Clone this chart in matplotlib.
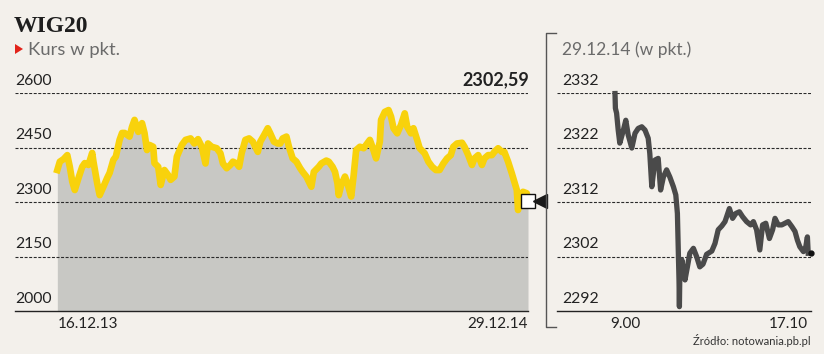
import matplotlib.pyplot as plt
from matplotlib.lines import Line2D
from matplotlib.patches import Polygon

plt.rcParams['font.family'] = ['Lato', 'DejaVu Sans']

# WIG20, kurs zamkniecia; dni od 16.12.13
day = [0, 2, 5, 8, 10, 12, 14, 17, 20, 22, 25, 28, 29, 32, 34, 37, 40, 42, 45, 47,
       50, 52, 54, 58, 60, 62, 65, 68, 70, 72, 74, 77, 78, 81, 83, 86, 89, 91, 94, 96,
       100, 103, 107, 110, 113, 116, 119, 121, 124, 128, 131, 133, 136, 139, 141, 144, 146, 148, 151, 154,
       157, 161, 163, 166, 169, 171, 174, 177, 179, 181, 184, 186, 189, 192, 195, 197, 200, 202, 204, 206,
       210, 212, 216, 218, 221, 223, 225, 226, 228, 231, 233, 236, 238, 240, 243, 246, 248, 251, 253, 256,
       259, 260, 263, 266, 268, 270, 273, 276, 279, 281, 284, 286, 289, 291, 295, 298, 301, 304, 307, 310,
       313, 316, 318, 321, 325, 327, 330, 333, 335, 338, 341, 343, 346, 349, 351, 354, 357, 359, 362, 365,
       367, 369, 370, 372, 374, 377, 378]
wig = [2388, 2411, 2418, 2429, 2397, 2356, 2333, 2366, 2397, 2407, 2402, 2435, 2411, 2352, 2319, 2342, 2366, 2380, 2416, 2425,
       2471, 2490, 2490, 2480, 2507, 2526, 2493, 2517, 2490, 2443, 2457, 2452, 2407, 2397, 2347, 2388, 2374, 2361, 2370, 2425,
       2457, 2471, 2475, 2461, 2473, 2452, 2406, 2461, 2452, 2448, 2434, 2406, 2393, 2402, 2411, 2406, 2397, 2434, 2471, 2475,
       2466, 2438, 2466, 2484, 2503, 2489, 2466, 2461, 2461, 2475, 2480, 2452, 2420, 2411, 2393, 2383, 2370, 2356, 2342, 2383,
       2397, 2406, 2414, 2411, 2397, 2383, 2351, 2319, 2347, 2370, 2351, 2315, 2374, 2443, 2452, 2448, 2457, 2471, 2452, 2420,
       2466, 2526, 2548, 2553, 2535, 2503, 2489, 2512, 2544, 2507, 2489, 2503, 2471, 2448, 2434, 2411, 2397, 2388, 2388, 2406,
       2420, 2429, 2452, 2461, 2463, 2452, 2429, 2402, 2420, 2429, 2402, 2420, 2429, 2429, 2438, 2448, 2438, 2438, 2411, 2379,
       2356, 2333, 2278, 2319, 2328, 2324, 2302.59]
last_label = '2302,59'
left_ticks = [2000, 2150, 2300, 2450, 2600]
left_dates = ['16.12.13', '29.12.14']

# sesja 29.12.14; minuty od 9.00
minute = [0, 1, 4, 8, 12, 21, 27, 33, 42, 50, 58, 67, 75, 83, 87, 92, 100, 108, 114, 121,
          129, 137, 146, 152, 156, 158, 160, 161, 162, 167, 175, 181, 187, 196, 204, 212, 220, 229, 242, 250,
          258, 267, 275, 286, 294, 302, 311, 319, 329, 339, 346, 354, 362, 369, 377, 386, 394, 400, 408, 417,
          425, 433, 442, 450, 456, 462, 471, 477, 481, 483, 490]
intraday = [2331.9, 2329.2, 2328.3, 2325.2, 2322.8, 2325.2, 2327.0, 2324.3, 2321.9, 2324.6, 2325.5, 2325.8, 2325.2, 2323.7, 2320.9, 2314.8, 2319.7, 2320.0, 2314.2, 2316.6,
            2317.9, 2316.6, 2314.8, 2313.3, 2309.9, 2303.8, 2297.7, 2292.8, 2298.3, 2301.4, 2297.7, 2300.1, 2302.6, 2303.5, 2302.0, 2300.1, 2300.6, 2302.4, 2303.0, 2304.4,
            2306.9, 2307.6, 2308.4, 2310.8, 2309.0, 2309.9, 2310.2, 2309.3, 2308.4, 2307.8, 2308.4, 2306.9, 2303.2, 2307.8, 2308.1, 2305.3, 2306.9, 2309.0, 2307.8, 2307.8,
            2308.1, 2308.4, 2307.5, 2306.6, 2305.0, 2303.8, 2302.9, 2303.8, 2305.6, 2302.6, 2302.59]
right_ticks = [2292, 2302, 2312, 2322, 2332]
time_labels = ['9.00', '17.10']

bg = '#f3f0eb'
W, H = 824, 354


def fx(px):
    return px / W


def fy(py):
    return 1 - py / H


fig = plt.figure(figsize=(W / 100, H / 100), dpi=100, facecolor=bg)

# lewy wykres
ax = fig.add_axes([fx(15), fy(311), fx(528) - fx(15), fy(93) - fy(311)])
ax.set_facecolor('none')
ax.set_xlim(-34, 378)
ax.set_ylim(2000, 2600)
ax.fill_between(day, wig, 2000, color='#c8c8c4', lw=0, zorder=1)
for v in left_ticks[1:]:
    ax.axhline(v, color='#2a2a2a', lw=0.8, dashes=(2.7, 1.4), zorder=2)
for v in left_ticks:
    ax.annotate(str(v), (-34, v), xytext=(0.5, 5.8), textcoords='offset points',
                fontsize=11.3, color='#222222', va='baseline', ha='left')
ax.plot(day, wig, color='#f8d20c', lw=4.8, solid_joinstyle='round', zorder=3, clip_on=False)
ax.plot(day[-1], wig[-1], marker='s', ms=9.5, mfc='white', mec='#111111', mew=1, zorder=5, clip_on=False)
ax.plot([day[-1]], [wig[-1]], marker='<', ms=10, color='#1a1a1a', zorder=5, clip_on=False,
        transform=ax.transData + plt.matplotlib.transforms.ScaledTranslation(12 / 100, 0, fig.dpi_scale_trans))
ax.annotate(last_label, (378, 2600), xytext=(0.5, 5.8), textcoords='offset points',
            fontsize=13, fontweight='bold', color='#222222', ha='right', va='baseline')
ax.annotate(left_dates[0], (day[0], 2000), xytext=(0, -12.3), textcoords='offset points',
            fontsize=11, color='#222222', ha='left', va='baseline')
ax.annotate(left_dates[1], (day[-1], 2000), xytext=(0, -12.3), textcoords='offset points',
            fontsize=11, color='#222222', ha='right', va='baseline')
for s in ['top', 'left', 'right']:
    ax.spines[s].set_visible(False)
ax.spines['bottom'].set_color('#222222')
ax.spines['bottom'].set_linewidth(1)
ax.set_xticks([])
ax.set_yticks([])

# prawy wykres
ax2 = fig.add_axes([fx(557), fy(311), fx(811) - fx(557), fy(93) - fy(311)])
ax2.set_facecolor('none')
ax2.set_xlim(-145, 490)
ax2.set_ylim(2292, 2332)
for v in right_ticks[1:]:
    ax2.axhline(v, color='#2a2a2a', lw=0.8, dashes=(2.7, 1.4), zorder=2)
for v in right_ticks:
    ax2.annotate(str(v), (-145, v), xytext=(3.6, 5.8), textcoords='offset points',
                 fontsize=11.3, color='#222222', va='baseline', ha='left')
ax2.plot(minute[:-1], intraday[:-1], color='#4a4a4a', lw=3.8, zorder=3, clip_on=False)
ax2.plot(minute[-1], intraday[-1], marker='o', ms=3.5, color='#111111', zorder=4, clip_on=False)
ax2.annotate(time_labels[0], (0, 2292), xytext=(-3.5, -12.3), textcoords='offset points',
             fontsize=11, color='#222222', ha='left', va='baseline')
ax2.annotate(time_labels[1], (490, 2292), xytext=(-2, -12.3), textcoords='offset points',
             fontsize=11, color='#222222', ha='right', va='baseline')
for s in ['top', 'left', 'right']:
    ax2.spines[s].set_visible(False)
ax2.spines['bottom'].set_color('#222222')
ax2.spines['bottom'].set_linewidth(1)
ax2.set_xticks([])
ax2.set_yticks([])

# nawias
fig.add_artist(Line2D([fx(556), fx(546), fx(546), fx(556)], [fy(33), fy(33), fy(327), fy(327)],
                      color='#555555', lw=1))

# naglowki
fig.text(fx(14), fy(32), 'WIG20', family=['Liberation Serif'], fontweight='bold',
         fontsize=17, color='#1e1e1e', va='baseline')
fig.add_artist(Polygon([[fx(15), fy(44)], [fx(15), fy(54)], [fx(23), fy(49)]],
                       closed=True, color='#e2231a', lw=0))
fig.text(fx(28), fy(55), 'Kurs w pkt.', fontsize=13.3, color='#6b6b6b', va='baseline')
fig.text(fx(562), fy(55), '29.12.14 (w pkt.)', fontsize=12.5, color='#6b6b6b', va='baseline')
fig.text(fx(811), fy(345), 'Źródło: notowania.pb.pl', fontsize=8, color='#333333',
         ha='right', va='baseline')

fig.savefig('out.png', dpi=100, facecolor=bg)
